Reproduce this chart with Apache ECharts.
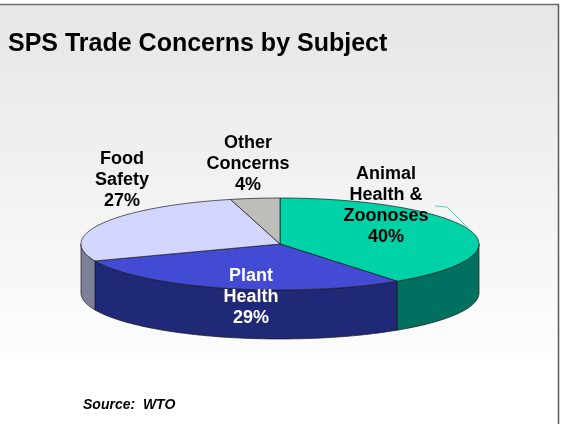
<!DOCTYPE html>
<html>
<head>
<meta charset="utf-8">
<style>html,body{margin:0;padding:0;background:#fff}#chart{width:563px;height:424px}</style>
<script src="https://cdn.jsdelivr.net/npm/echarts@6/dist/echarts.min.js"></script>
</head>
<body>
<div id="chart"></div>
<script>
// Share of SPS trade concerns by subject, clockwise from twelve o'clock
const subjects = ['Animal\nHealth &\nZoonoses', 'Plant\nHealth', 'Food\nSafety', 'Other\nConcerns'];
const shares = [40, 29, 27, 4];
const topColors = ['#00D2A8', '#434BD4', '#D3D6FF', '#BDBEBA'];
const sideColors = ['#007060', '#202878', '#7C7F98', '#8A8B88'];
const labelColors = ['#000000', '#FFFFFF', '#000000', '#000000'];
const labelCentres = [[386, 206], [251, 297], [122, 180], [248, 164]];

const ellipse = { cx: 280, cy: 244, rx: 199, ry: 46, depth: 49 };
const total = shares.reduce((a, b) => a + b, 0);
const FONT = '"Liberation Sans", Arial, sans-serif';

function rimPoint(t, drop) {
  return [ellipse.cx + ellipse.rx * Math.sin(t), ellipse.cy - ellipse.ry * Math.cos(t) + (drop || 0)];
}
function arc(from, to, drop) {
  const n = Math.max(2, Math.ceil(Math.abs(to - from) / 0.02));
  const pts = [];
  for (let i = 0; i <= n; i++) pts.push(rimPoint(from + (to - from) * i / n, drop));
  return pts;
}

function renderSlice(params, api) {
  const i = params.dataIndex;
  const before = shares.slice(0, i).reduce((a, b) => a + b, 0);
  const t0 = before / total * 2 * Math.PI;
  const t1 = (before + api.value(0)) / total * 2 * Math.PI;
  const edge = { stroke: '#1a1a1a', lineWidth: 0.7 };
  const children = [];

  // The wall is only visible along the front half of the rim
  const a = Math.max(t0, Math.PI / 2);
  const b = Math.min(t1, 3 * Math.PI / 2);
  if (b > a) {
    children.push({
      type: 'polygon',
      shape: { points: arc(a, b, 0).concat(arc(b, a, ellipse.depth)) },
      style: Object.assign({ fill: sideColors[i] }, edge)
    });
  }
  children.push({
    type: 'polygon',
    shape: { points: [[ellipse.cx, ellipse.cy]].concat(arc(t0, t1, 0)) },
    style: Object.assign({ fill: topColors[i] }, edge)
  });
  return { type: 'group', children };
}

const chart = echarts.init(document.getElementById('chart'), null, { renderer: 'canvas' });
chart.setOption({
  animation: false,
  graphic: [
    {
      type: 'rect', z: -10,
      shape: { x: 0, y: 4, width: 558, height: 420 },
      style: {
        fill: new echarts.graphic.LinearGradient(0, 0, 0, 1, [
          { offset: 0, color: '#E6E6E6' },
          { offset: 0.84, color: '#FDFDFD' },
          { offset: 0.85, color: '#FFFFFF' },
          { offset: 1, color: '#FFFFFF' }
        ])
      }
    },
    { type: 'line', z: -5, shape: { x1: 0, y1: 4.5, x2: 559, y2: 4.5 }, style: { stroke: '#6E6E6E', lineWidth: 1.5 } },
    { type: 'line', z: -5, shape: { x1: 558.5, y1: 4, x2: 558.5, y2: 424 }, style: { stroke: '#5A5A5A', lineWidth: 1.5 } },
    { type: 'polyline', z: 5, shape: { points: [[435, 206], [447, 207], [468, 228]] }, style: { stroke: '#2CC9AC', fill: 'none', lineWidth: 0.8 } },
    ...subjects.map((name, i) => ({
      type: 'text', z: 10,
      style: {
        x: labelCentres[i][0], y: labelCentres[i][1],
        text: name + '\n' + shares[i] + '%',
        fill: labelColors[i],
        font: 'bold 18px ' + FONT,
        lineHeight: 21,
        align: 'center', verticalAlign: 'middle'
      }
    })),
    {
      type: 'text', z: 10, x: 83, y: 405,
      style: { text: 'Source:  WTO', fill: '#000', font: 'italic bold 14px ' + FONT, verticalAlign: 'middle' }
    },
    {
      type: 'text', z: 10, x: 8, y: 44,
      style: { text: 'SPS Trade Concerns by Subject', fill: '#000', font: 'bold 25px ' + FONT, verticalAlign: 'middle' }
    }
  ],
  series: [{
    type: 'custom',
    coordinateSystem: 'none',
    renderItem: renderSlice,
    data: shares.map((v, i) => ({ name: subjects[i], value: [v] })),
    silent: true
  }]
});
</script>
</body>
</html>
